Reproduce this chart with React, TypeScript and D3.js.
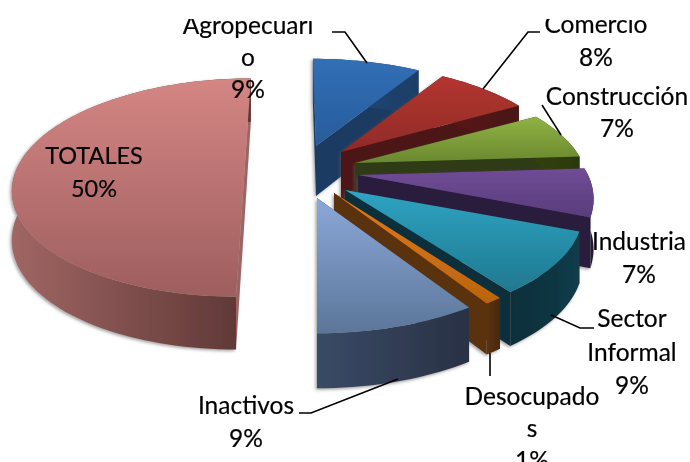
import React from "react";
import * as d3 from "d3";

const W = 690, H = 462;
const categories = ["Agropecuario", "Comercio", "Construcción", "Industria", "Sector Informal", "Desocupados", "Inactivos", "TOTALES"];
const values = [9, 8, 7, 7, 9, 1, 9, 50];
const labelLines = [["Agropecuari", "o", "9%"], ["Comercio", "8%"], ["Construcción", "7%"], ["Industria", "7%"], ["Sector", "Informal", "9%"], ["Desocupado", "s", "1%"], ["Inactivos", "9%"], ["TOTALES", "50%"]];
// layout per slice (exploded apex position, radii, wall depth, lean of the projection)
const apexX = [316, 341, 355, 358, 345, 334, 317, 245];
const apexY = [146, 152, 163, 175, 190, 193, 198, 164];
const radiusX = [232, 224, 228, 230, 232, 233, 232, 226];
const radiusY = [106, 106, 106, 106, 104, 107, 106, 104];
const depths = [50, 49, 48, 49, 50, 47, 50, 48];
const leans = [-0.035, 0, 0, 0, 0, 0, 0, 0.068];
const topColors = [["#316fb6", "#285c9b"], ["#b3352f", "#8f2b28"], ["#8fb343", "#6a8830"], ["#704c96", "#593c7b"], ["#2ea4c2", "#1f7890"], ["#e27a1a", "#b9640f"], ["#8ba8d9", "#5c7699"], ["#d48684", "#9e5e5e"]];
const rimColors = [["#234c7c", "#1d3e66"], ["#5a1a17", "#4a1412"], ["#33400f", "#2c3810"], ["#2c1c40", "#261838"], ["#0f2f3a", "#123a48"], ["#5c3210", "#4a280c"], ["#3a4a66", "#293144"], ["#a06664", "#5c3634"]];
const radialColors = ["#1c3b63", "#4e1614", "#2d3a12", "#291a3d", "#0f2f3a", "#5a300f", "#2a3244", "#9b6565"];
const labelX = [248, 596, 617, 639, 632, 532, 246, 94];
const labelY = [34, 33, 105, 250, 327, 405, 414, 164];
const lineH = [32, 33, 32, 33, 33.5, 32, 33, 33];
const labelSize = [24.5, 24.5, 24.5, 24.5, 24.5, 24.5, 24.5, 23.5];
const leaders = [
  [[332, 32], [345, 32], [367, 63]],
  [[540, 32], [528, 32], [483, 89]],
  [[542, 105], [561, 135]],
  [[551, 315], [580, 328], [594, 328]],
  [[490, 353], [490, 376]],
  [[398, 379], [311, 413], [299, 413]],
];

const P = 0.216;
const pieAngles = d3.pie<number>().sort(null).startAngle(0).endAngle(2 * Math.PI)(values);
const line = d3.line<[number, number]>().curve(d3.curveLinear);

function proj(i: number, t: number, down = 0): [number, number] {
  const u = Math.sin(t), v = -Math.cos(t), k = 1 / (1 - P * v);
  const dy = radiusY[i] * v * k;
  const x = apexX[i] + radiusX[i] * u * k - leans[i] * dy;
  const y = apexY[i] + dy;
  return [x, y + down * depths[i] * (1 + 0.1 * v)];
}
function apex(i: number, down = 0): [number, number] {
  return [apexX[i], apexY[i] + down * depths[i]];
}
function arcPts(i: number, a: number, b: number, down = 0): [number, number][] {
  const n = Math.max(4, Math.ceil((b - a) / 0.03));
  return d3.range(n + 1).map((j) => proj(i, a + ((b - a) * j) / n, down));
}

export default function App() {
  const order = [7, 0, 1, 2, 3, 4, 5, 6];
  return (
    <svg width={W} height={H} viewBox={`0 0 ${W} ${H}`} style={{ position: "absolute", left: 0, top: 0, background: "#fff" }}>
      <defs>
        <filter id="sh" x="-10%" y="-10%" width="120%" height="120%">
          <feDropShadow dx="-1.5" dy="1.5" stdDeviation="1.5" floodColor="#555" floodOpacity="0.55" />
        </filter>
        <filter id="soft"><feGaussianBlur stdDeviation="0.35" /></filter>
        <clipPath id="textClip"><rect x="0" y="19" width={W} height={H - 19} /></clipPath>
        {categories.map((_, i) => (
          <React.Fragment key={i}>
            <linearGradient id={`top${i}`} x1="0" y1="0" x2="0" y2="1">
              <stop offset="0" stopColor={topColors[i][0]} />
              <stop offset="1" stopColor={topColors[i][1]} />
            </linearGradient>
            <linearGradient id={`rim${i}`} x1="0" y1="0" x2="1" y2="0">
              <stop offset="0" stopColor={rimColors[i][0]} />
              <stop offset="1" stopColor={rimColors[i][1]} />
            </linearGradient>
          </React.Fragment>
        ))}
      </defs>
      <g filter="url(#soft)">
        {order.map((i) => {
          const a = pieAngles[i].startAngle, b = pieAngles[i].endAngle;
          const topPts = [apex(i), ...arcPts(i, a, b)];
          const rimPts = [...arcPts(i, a, b), ...arcPts(i, a, b, 1).reverse()];
          const radial = (t: number) => [apex(i), proj(i, t), proj(i, t, 1), apex(i, 1)];
          return (
            <g key={i} filter="url(#sh)">
              <path d={line(radial(a))! + "Z"} fill={radialColors[i]} />
              <path d={line(radial(b))! + "Z"} fill={radialColors[i]} />
              <path d={line(rimPts)! + "Z"} fill={`url(#rim${i})`} />
              <path d={line(topPts)! + "Z"} fill={`url(#top${i})`} />
            </g>
          );
        })}
      </g>
      {leaders.map((pts, i) => (
        <path key={i} d={line(pts as [number, number][])!} fill="none" stroke="#000" strokeWidth={1.6} />
      ))}
      <g clipPath="url(#textClip)" fontFamily="Lato, 'Open Sans', sans-serif" fill="#000" stroke="#000" strokeWidth={0.2} textAnchor="middle">
        {labelLines.map((lines, i) =>
          lines.map((t, j) => (
            <text key={`${i}-${j}`} x={labelX[i]} y={labelY[i] + j * lineH[i]} fontSize={labelSize[i]}>{t}</text>
          ))
        )}
      </g>
    </svg>
  );
}
